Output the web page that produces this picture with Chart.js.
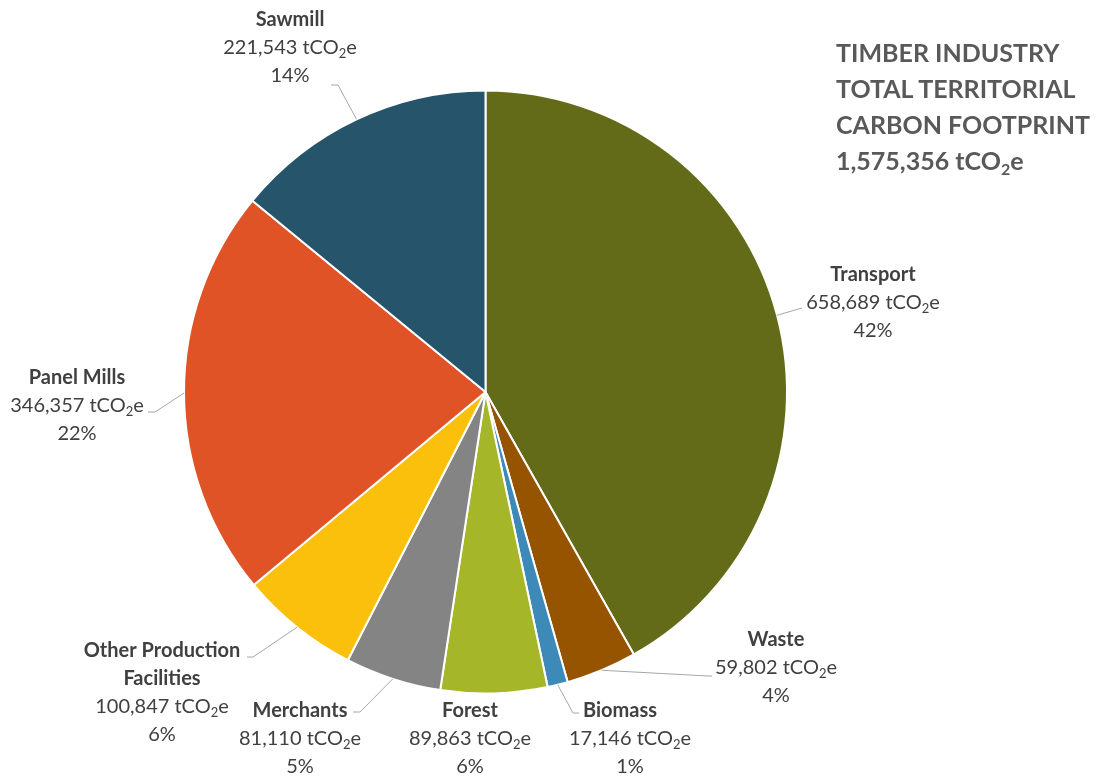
<!DOCTYPE html>
<html>
<head>
<meta charset="utf-8">
<script src="https://cdn.jsdelivr.net/npm/chart.js@4.4.1/dist/chart.umd.min.js"></script>
<style>
  html, body { margin: 0; padding: 0; background: #ffffff; }
  #wrap { position: relative; width: 1097px; height: 776px; overflow: hidden; }
  #chart { position: absolute; left: 0; top: 0; }
  #headline {
    position: absolute; left: 836px; top: 34px;
    font-family: Lato, "Open Sans", sans-serif; font-weight: 700;
    font-size: 25px; line-height: 36px; color: #595959; white-space: nowrap;
  }
  #headline sub { font-size: 16px; vertical-align: -5px; line-height: 0; }
</style>
</head>
<body>
<div id="wrap">
  <canvas id="chart" width="1097" height="776"></canvas>
  <div id="headline">TIMBER INDUSTRY<br>TOTAL TERRITORIAL<br>CARBON FOOTPRINT<br>1,575,356 tCO<sub>2</sub>e</div>
</div>
<script>
// Emission sources, clockwise from 12 o'clock
const categories = ['Transport', 'Waste', 'Biomass', 'Forest', 'Merchants',
                    'Other Production Facilities', 'Panel Mills', 'Sawmill'];
// Emissions in tCO2e
const emissions = [658689, 59802, 17146, 89863, 81110, 100847, 346357, 221543];
const sliceColors = ['#636B19', '#965300', '#3D8AB9', '#A6B629', '#848484',
                     '#FBC00B', '#E05326', '#26546B'];

// Label placement: text centre, first-line centre, leader-line elbow points, name wrap
const labelLayout = [
  { x: 873, y: 275, leader: [[802, 308]] },
  { x: 776, y: 640, leader: [[708, 676], [712, 676]] },
  { x: 630, y: 711, leader: [[573, 713], [579, 713]], nameX: 620 },
  { x: 470, y: 711, leader: null },
  { x: 300, y: 711, leader: [[360, 712], [353, 712]] },
  { x: 162, y: 651, leader: [[253, 657], [247, 657]], wrap: 2 },
  { x: 77,  y: 378, leader: [[155, 412], [148, 412]] },
  { x: 290, y: 20,  leader: [[338, 85], [331, 85]] }
];

const FONT = 'Lato, "Open Sans", sans-serif';
const TEXT_SIZE = 20;
const SUB_SIZE = 13;
const LINE_H = 28;
const TEXT_COLOR = '#404040';

const total = emissions.reduce((a, b) => a + b, 0);

function drawValueLine(ctx, cx, cy, value) {
  const head = value.toLocaleString('en-US') + ' tCO';
  ctx.font = TEXT_SIZE + 'px ' + FONT;
  const w1 = ctx.measureText(head).width;
  const w3 = ctx.measureText('e').width;
  ctx.font = SUB_SIZE + 'px ' + FONT;
  const w2 = ctx.measureText('2').width;
  let x = cx - (w1 + w2 + w3) / 2;
  ctx.textAlign = 'left';
  ctx.font = TEXT_SIZE + 'px ' + FONT;
  ctx.fillText(head, x, cy);
  x += w1;
  ctx.font = SUB_SIZE + 'px ' + FONT;
  ctx.fillText('2', x, cy + 6);
  x += w2;
  ctx.font = TEXT_SIZE + 'px ' + FONT;
  ctx.fillText('e', x, cy);
}

const sliceLabels = {
  id: 'sliceLabels',
  afterDraw(chart) {
    const ctx = chart.ctx;
    const arcs = chart.getDatasetMeta(0).data;
    ctx.save();
    ctx.textBaseline = 'middle';
    arcs.forEach((arc, i) => {
      const lay = labelLayout[i];
      // leader line from the middle of the slice's outer edge
      if (lay.leader) {
        const mid = (arc.startAngle + arc.endAngle) / 2;
        const sx = arc.x + Math.cos(mid) * arc.outerRadius;
        const sy = arc.y + Math.sin(mid) * arc.outerRadius;
        ctx.beginPath();
        ctx.moveTo(sx, sy);
        lay.leader.forEach(p => ctx.lineTo(p[0], p[1]));
        ctx.strokeStyle = '#A6A6A6';
        ctx.lineWidth = 1;
        ctx.stroke();
      }
      ctx.fillStyle = TEXT_COLOR;
      let y = lay.y;
      // category name (bold), optionally wrapped
      const words = categories[i].split(' ');
      const nameLines = lay.wrap
        ? [words.slice(0, lay.wrap).join(' '), words.slice(lay.wrap).join(' ')]
        : [categories[i]];
      ctx.font = 'bold ' + TEXT_SIZE + 'px ' + FONT;
      ctx.textAlign = 'center';
      nameLines.forEach(line => {
        ctx.fillText(line, lay.nameX || lay.x, y);
        y += LINE_H;
      });
      drawValueLine(ctx, lay.x, y, emissions[i]);
      y += LINE_H;
      ctx.font = TEXT_SIZE + 'px ' + FONT;
      ctx.textAlign = 'center';
      ctx.fillText(Math.round(emissions[i] / total * 100) + '%', lay.x, y);
    });
    ctx.restore();
  }
};

new Chart(document.getElementById('chart'), {
  type: 'pie',
  data: {
    labels: categories,
    datasets: [{
      data: emissions,
      backgroundColor: sliceColors,
      borderColor: '#ffffff',
      borderWidth: 2
    }]
  },
  options: {
    responsive: false,
    animation: false,
    layout: { padding: { left: 183, right: 309, top: 89, bottom: 81 } },
    plugins: { legend: { display: false }, tooltip: { enabled: false } }
  },
  plugins: [sliceLabels]
});
</script>
</body>
</html>
